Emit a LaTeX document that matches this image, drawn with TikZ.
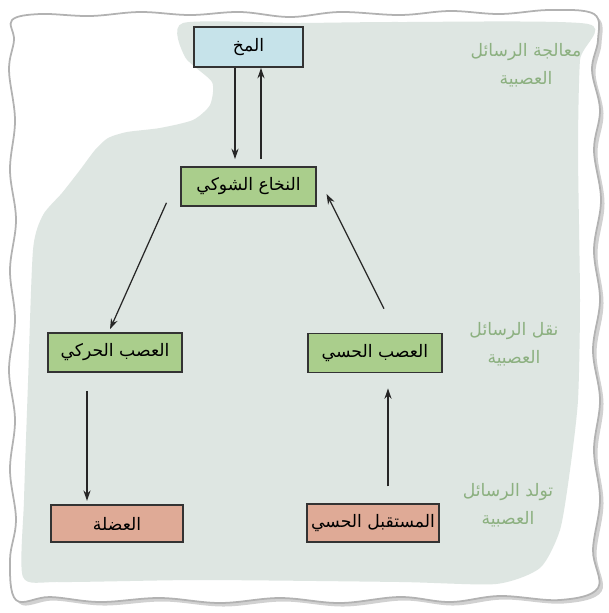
\documentclass[tikz,border=0pt]{standalone}
\usepackage{fontspec}
\newfontfamily\arabicfont[Script=Arabic]{DejaVu Sans}
\TeXXeTstate=1
\usetikzlibrary{arrows.meta, calc, shadows}

\definecolor{pageGray}{RGB}{222,230,226}
\definecolor{brainBlue}{RGB}{198,227,234}
\definecolor{nerveGreen}{RGB}{170,206,140}
\definecolor{endPink}{RGB}{223,170,150}
\definecolor{stageGreen}{RGB}{140,176,128}

\begin{document}
\begin{tikzpicture}[
  x=0.02cm, y=-0.02cm,
  baseBox/.style={rectangle, draw=black!80, line width=0.9pt, minimum height=0.78cm, inner sep=0pt, font=\arabicfont\fontsize{9.8}{12}\selectfont},
  brainBox/.style={baseBox, fill=brainBlue, minimum width=2.18cm, minimum height=0.8cm},
  nerveBox/.style={baseBox, fill=nerveGreen, minimum width=2.69cm},
  endBox/.style={baseBox, fill=endPink, minimum width=2.64cm, minimum height=0.75cm},
  stageLabel/.style={align=center, text=stageGreen, font=\arabicfont\fontsize{9.8}{16}\selectfont},
  link/.style={draw=black!85, line width=0.7pt, -{Stealth[length=6pt,width=4pt]}}
]
\useasboundingbox (0,0) rectangle (609,613);

% torn paper
\filldraw[fill=white, draw=black!30, line width=1pt,
  drop shadow={shadow xshift=2pt, shadow yshift=-2pt, opacity=0.3, fill=black!60}]
  plot[smooth cycle, tension=0.6] coordinates {
  (12,20) (40,14) (90,16) (140,12) (190,15) (240,12) (290,17) (340,12) (400,15) (450,11) (500,14) (550,10) (594,14)
  (598,40) (592,70) (600,110) (594,150) (601,200) (594,250) (600,300) (593,350) (600,400) (594,450) (600,500) (593,550) (598,588)
  (560,600) (500,596) (450,602) (400,597) (340,603) (280,598) (220,603) (160,598) (100,602) (50,597) (16,600)
  (10,560) (16,520) (10,470) (15,420) (9,370) (15,320) (10,270) (16,220) (10,170) (15,120) (9,70) (14,40)};

% photo area
\fill[pageGray] plot[smooth cycle, tension=0.4] coordinates {
  (183,23) (185,57) (212,82) (210,105) (193,120) (160,128) (127,132) (108,138) (95,150) (80,170) (62,193) (43,215) (33,250)
  (28,383) (24,500) (23,577) (60,582) (200,580) (400,582) (496,584) (540,568) (560,530) (570,470) (578,400) (580,300)
  (578,150) (580,60) (588,24) (400,22) (300,23)};

\node[brainBox] (brain) at (248.5,47) {\beginR المخ\endR};
\node[nerveBox] (cord) at (248.5,186.5) {\beginR النخاع الشوكي\endR};
\node[nerveBox] (motor) at (115,352.5) {\beginR العصب الحركي\endR};
\node[nerveBox] (sensory) at (375,353) {\beginR العصب الحسي\endR};
\node[endBox] (muscle) at (117,523.5) {\beginR العضلة\endR};
\node[endBox] (receptor) at (373,523) {\beginR المستقبل الحسي\endR};

\node[stageLabel] (process) at (526,65) {\beginR معالجة الرسائل\endR\\\beginR العصبية\endR};
\node[stageLabel] (transmit) at (514,344) {\beginR نقل الرسائل\endR\\\beginR العصبية\endR};
\node[stageLabel] (generate) at (508,505) {\beginR تولد الرسائل\endR\\\beginR العصبية\endR};

\draw[link] ($(brain.south)+(-13.5,0)$) -- ($(cord.north)+(-13.5,-7)$);
\draw[link] ($(cord.north)+(12.5,-7)$) -- ($(brain.south)+(12.5,0)$);
\draw[link] ($(cord.south west)+(-14,-4)$) -- ($(motor.north)+(-5,-3)$);
\draw[link] ($(sensory.north)+(9,-24)$) -- ($(cord.south east)+(10,-13)$);
\draw[link] ($(motor.south)+(-28,18)$) -- ($(muscle.north)+(-30,-3)$);
\draw[link] ($(receptor.north)+(15,-17)$) -- ($(sensory.south)+(13,15)$);
\end{tikzpicture}
\end{document}
